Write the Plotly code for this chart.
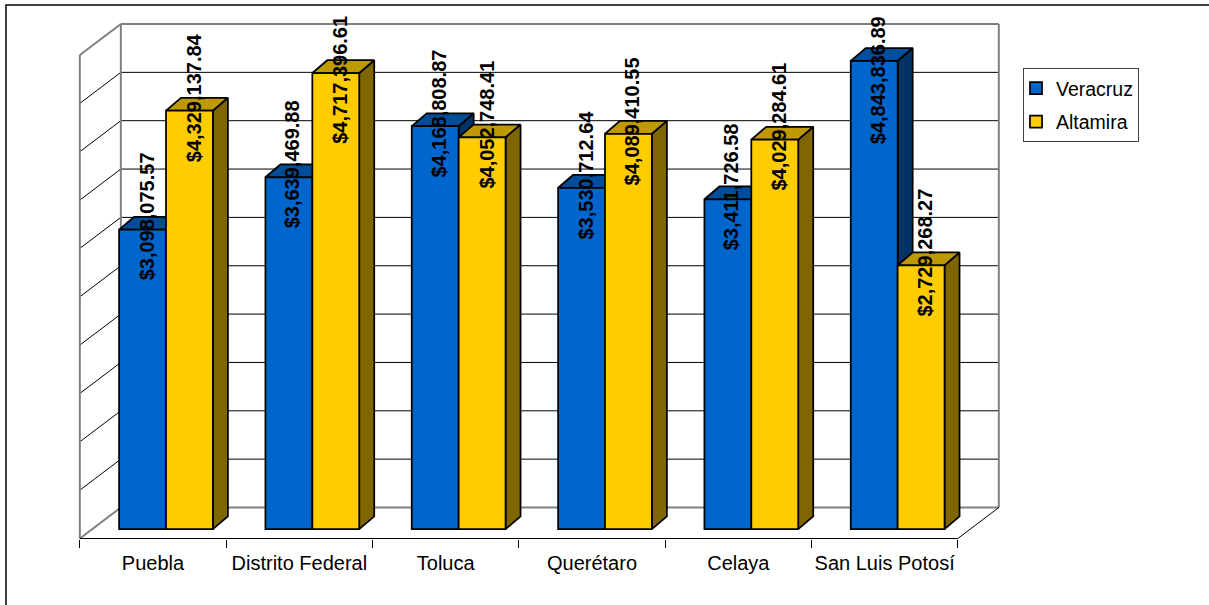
import plotly.graph_objects as go

CATEGORIES = ["Puebla", "Distrito Federal", "Toluca", "Querétaro", "Celaya", "San Luis Potosí"]
VERACRUZ = [3098075.57, 3639469.88, 4168808.87, 3530712.64, 3411726.58, 4843836.89]
ALTAMIRA = [4329137.84, 4717396.61, 4052748.41, 4089410.55, 4029284.61, 2729268.27]
GRID_VALUES = [0, 500000, 1000000, 1500000, 2000000, 2500000, 3000000, 3500000, 4000000, 4500000, 5000000]

W, H = 1209, 605
CAT_PX = 146.33            # pixels per category
VAL_PX = 48.35 / 500000    # pixels per dollar
ZERO_PX_Y = 529.2          # pixel row of value 0 at the bars' front
CENTER0_PX = 153.0         # pixel column of the first category's centre on the floor's front edge

px_x = lambda n: n / CAT_PX
px_y = lambda n: n / VAL_PX

xr = [(0 - CENTER0_PX) / CAT_PX, (W - CENTER0_PX) / CAT_PX]
yr = [(ZERO_PX_Y - H) / VAL_PX, ZERO_PX_Y / VAL_PX]

BAR_SHIFT = px_x(13.0)
BAR_W = px_x(46.9)
DX, DY = px_x(15), px_y(12.8)
WALL_DX, BACK_Y = px_x(41), px_y(21.7)
FRONT_Y = px_y(-9.3)
X_L, X_R = -0.5, 5.5
LABEL_DX = px_x(4.0)

SERIES = [
    ("Veracruz", VERACRUZ, "#0066CC", "#004D99", "#003366"),
    ("Altamira", ALTAMIRA, "#FFCC00", "#BF9900", "#806600"),
]

fig = go.Figure()


def line(xs, ys, color="#000000", width=1.0):
    fig.add_trace(go.Scatter(x=xs, y=ys, mode="lines", line=dict(color=color, width=width),
                             showlegend=False, hoverinfo="skip", xaxis="x", yaxis="y"))


def face(xs, ys, color):
    fig.add_trace(go.Scatter(x=xs, y=ys, mode="lines", fill="toself", fillcolor=color,
                             line=dict(color="#000000", width=1.75), showlegend=False,
                             hoverinfo="skip", xaxis="x", yaxis="y"))


# walls and gridlines
for v in GRID_VALUES[1:-1]:
    c = "#000000"
    line([X_L + WALL_DX, X_R + WALL_DX], [v + BACK_Y, v + BACK_Y], c, 1)
    line([X_L, X_L + WALL_DX], [v + FRONT_Y, v + BACK_Y], c, 1)
top, bot = GRID_VALUES[-1], GRID_VALUES[0]
GRAY = "#808080"
line([X_L + WALL_DX, X_R + WALL_DX], [top + BACK_Y, top + BACK_Y], GRAY, 2)
line([X_L + WALL_DX, X_R + WALL_DX], [bot + BACK_Y, bot + BACK_Y], GRAY, 2)
line([X_L, X_L + WALL_DX], [top + FRONT_Y, top + BACK_Y], GRAY, 2)
line([X_L, X_L + WALL_DX], [bot + FRONT_Y, bot + BACK_Y], GRAY, 2)
line([X_L, X_L], [bot + FRONT_Y, top + FRONT_Y], GRAY, 2)
line([X_L + WALL_DX, X_L + WALL_DX], [bot + BACK_Y, top + BACK_Y], GRAY, 2)
line([X_R + WALL_DX, X_R + WALL_DX], [bot + BACK_Y, top + BACK_Y], GRAY, 2)
line([X_R, X_R + WALL_DX], [bot + FRONT_Y, bot + BACK_Y], "#000000", 1)
line([X_L, X_R], [bot + FRONT_Y, bot + FRONT_Y], "#000000", 1)

# bar depth: right sides and tops, computed from the values
annotations = []
for i in range(len(CATEGORIES)):
    for k, (name, vals, front, topc, side) in enumerate(SERIES):
        x0 = i + BAR_SHIFT + (k - 1) * BAR_W
        x1 = x0 + BAR_W
        v = vals[i]
        face([x1, x1 + DX, x1 + DX, x1, x1], [0, DY, v + DY, v, 0], side)
        face([x0, x0 + DX, x1 + DX, x1, x0], [v, v + DY, v + DY, v, v], topc)
        annotations.append(dict(
            x=(x0 + x1) / 2 + LABEL_DX, y=min(v + DY, px_y(ZERO_PX_Y - 80)),
            xref="x", yref="y", text="<b>${:,.2f}</b>".format(v), textangle=-90, showarrow=False,
            xanchor="center", yanchor="middle",
            font=dict(family="Liberation Sans", size=20, color="#000000")))

# bar fronts
for name, vals, front, topc, side in SERIES:
    fig.add_trace(go.Bar(x=CATEGORIES, y=vals, name=name, marker=dict(color=front, line=dict(color="#000000", width=1.75)),
                         xaxis="x2", yaxis="y2", legendgroup=name, hoverinfo="skip"))

fig.update_layout(
    width=W, height=H, margin=dict(l=0, r=0, t=0, b=0), paper_bgcolor="#ffffff", plot_bgcolor="#ffffff",
    barmode="group", bargap=1 - 2 * BAR_W, bargroupgap=0,
    font=dict(family="Liberation Sans", color="#000000"),
    annotations=annotations,
    xaxis=dict(range=xr, tickmode="array", tickvals=list(range(len(CATEGORIES))), ticktext=CATEGORIES,
               showgrid=False, zeroline=False, showline=False, anchor="free",
               position=(H - 538.5) / H, ticks="outside", ticklen=6, tickcolor="rgba(0,0,0,0)",
               tickfont=dict(family="Liberation Sans", size=20, color="#000000"),
               minor=dict(ticks="outside", ticklen=8, tickcolor="#000000", tickwidth=1, tickmode="array",
                          tickvals=[i - 0.5 for i in range(len(CATEGORIES) + 1)], showgrid=False)),
    yaxis=dict(range=yr, visible=False, showgrid=False, zeroline=False),
    xaxis2=dict(type="category", categoryarray=CATEGORIES, range=[xr[0] - BAR_SHIFT, xr[1] - BAR_SHIFT],
                overlaying="x", visible=False, showgrid=False, zeroline=False),
    yaxis2=dict(range=yr, overlaying="y", visible=False, showgrid=False, zeroline=False),
    legend=dict(x=1023 / W, y=1 - 68 / H, xanchor="left", yanchor="top", bgcolor="#ffffff",
                bordercolor="#404040", borderwidth=1, tracegroupgap=5, indentation=-8,
                font=dict(family="Liberation Sans", size=19.5, color="#000000")),
    shapes=[dict(type="rect", xref="paper", yref="paper", x0=6 / W, x1=1.05, y0=-0.05, y1=1 - 5 / H,
                 line=dict(color="#000000", width=1.5), layer="below")],
)

fig.write_html("out.html", config=dict(displayModeBar=False),
               post_script="document.body.style.margin='0';document.body.style.overflow='hidden';")
